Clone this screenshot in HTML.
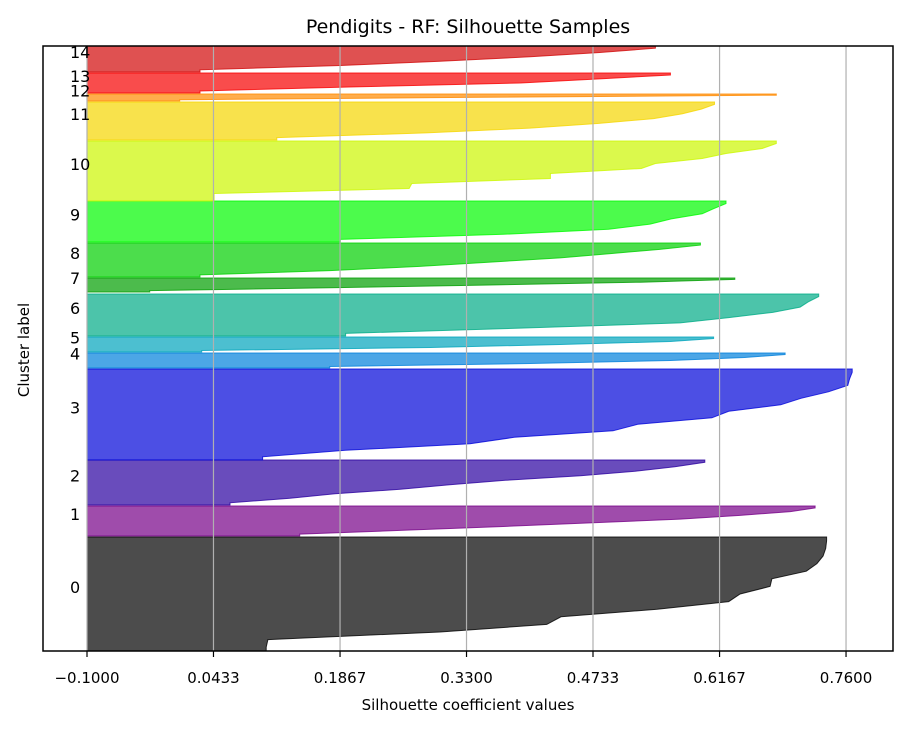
<!DOCTYPE html>
<html><head><meta charset="utf-8"><style>
body{margin:0;background:#fff}
svg text{font-family:"DejaVu Sans","Liberation Sans",sans-serif;fill:#000}
</style></head><body>
<svg id="chart" width="912" height="730" xmlns="http://www.w3.org/2000/svg">
<rect width="912" height="730" fill="#fff"/>
<g id="fills"></g>
<g id="grid"></g>
<g id="labels"></g>
<rect x="43" y="46" width="850" height="605" fill="none" stroke="#000" stroke-width="1.5"/>
<g id="ticks"></g>
<text x="468" y="33" font-size="19" text-anchor="middle">Pendigits - RF: Silhouette Samples</text>
<text x="468" y="710" font-size="15" text-anchor="middle">Silhouette coefficient values</text>
<text transform="translate(29,350) rotate(-90)" font-size="15" text-anchor="middle">Cluster label</text>
</svg>
<script>
const tickValues=[-0.1,0.0433,0.1867,0.33,0.4733,0.6167,0.76];
const tickLabels=["\u22120.1000","0.0433","0.1867","0.3300","0.4733","0.6167","0.7600"];
const clusterLower=[0,115,146,191,283,299,315,359,374,409,450,511,550,558,579];
const clusterSize=[114,30,45,91,15,15,42,14,34,41,60,38,7,20,26];
const sil0=[0.103,0.105,0.300,0.421,0.437,0.546,0.627,0.640,0.674,0.676,0.715,0.727,0.734,0.737,0.738];
const sil1=[0.141,0.255,0.368,0.470,0.572,0.640,0.697,0.725];
const sil2=[0.062,0.130,0.181,0.255,0.311,0.374,0.459,0.521,0.566,0.600];
const sil3=[0.099,0.193,0.334,0.384,0.496,0.524,0.608,0.627,0.686,0.709,0.740,0.762,0.764,0.767];
const sil4=[0.175,0.402,0.561,0.645,0.691];
const sil5=[0.030,0.289,0.436,0.561,0.610];
const sil6=[0.193,0.391,0.572,0.627,0.677,0.708,0.717,0.729];
const sil7=[-0.029,0.175,0.357,0.527,0.634];
const sil8=[0.028,0.175,0.277,0.357,0.436,0.493,0.549,0.595];
const sil9=[0.187,0.372,0.491,0.538,0.562,0.597,0.610,0.624];
const sil10=[0.044,0.044,0.265,0.268,0.425,0.425,0.528,0.544,0.597,0.624,0.665,0.681];
const sil11=[0.115,0.284,0.402,0.480,0.542,0.574,0.596,0.611];
const sil12=[0.005,0.311,0.681];
const sil13=[0.028,0.197,0.391,0.478,0.561];
const sil14=[0.028,0.187,0.300,0.402,0.481,0.544];
const silAll=[sil0,sil1,sil2,sil3,sil4,sil5,sil6,sil7,sil8,sil9,sil10,sil11,sil12,sil13,sil14];
const colors=["#000000","#760087","#2a009f","#0004d8","#0080db","#00a4bc","#00ab86","#009e00","#00cf00","#00f900","#ccf700","#f5d600","#ff8a00","#f70000","#d10707"];
const NS="http://www.w3.org/2000/svg";
const xS=v=>87+(v+0.1)*882.6;
const yS=d=>651-d;
const base=-0.1;
const grid=document.getElementById('grid'),ticks=document.getElementById('ticks');
tickValues.forEach((t,i)=>{
  const x=xS(t);
  const g=document.createElementNS(NS,'line');
  
  
  g.setAttribute('x1',x);g.setAttribute('x2',x);g.setAttribute('y1',46);g.setAttribute('y2',651);
  g.setAttribute('stroke','#b0b0b0');g.setAttribute('stroke-width','1.2');grid.appendChild(g);
  const tk=document.createElementNS(NS,'line');
  
  
  tk.setAttribute('x1',x);tk.setAttribute('x2',x);tk.setAttribute('y1',651);tk.setAttribute('y2',657);
  tk.setAttribute('stroke','#000');tk.setAttribute('stroke-width','1.2');ticks.appendChild(tk);
  const tl=document.createElementNS(NS,'text');
  
  
  tl.setAttribute('x',x);tl.setAttribute('y',683);tl.setAttribute('font-size','15');tl.setAttribute('text-anchor','middle');
  tl.textContent=tickLabels[i];ticks.appendChild(tl);
});
const fills=document.getElementById('fills'),labels=document.getElementById('labels');
silAll.forEach((vals,c)=>{
  const lo=clusterLower[c],sz=clusterSize[c],n=vals.length,h=sz/n;
  let pts=[[xS(base),yS(lo)],[xS(vals[0]),yS(lo)]];
  vals.forEach((v,i)=>{pts.push([xS(v),yS(lo+(i+0.5)*h)]);});
  pts.push([xS(vals[n-1]),yS(lo+sz)]);
  pts.push([xS(base),yS(lo+sz)]);
  const p=document.createElementNS(NS,'polygon');
  
  
  p.setAttribute('points',pts.map(q=>q[0].toFixed(1)+','+q[1].toFixed(1)).join(' '));
  p.setAttribute('fill',colors[c]);p.setAttribute('fill-opacity','0.7');
  p.setAttribute('stroke',colors[c]);p.setAttribute('stroke-opacity','0.8');p.setAttribute('stroke-width','1');
  fills.appendChild(p);
  const t=document.createElementNS(NS,'text');
  
  
  t.setAttribute('x',70);t.setAttribute('y',yS(lo+sz/2)-1);t.setAttribute('font-size','16');
  t.textContent=String(c);labels.appendChild(t);
});
</script>
</body></html>
